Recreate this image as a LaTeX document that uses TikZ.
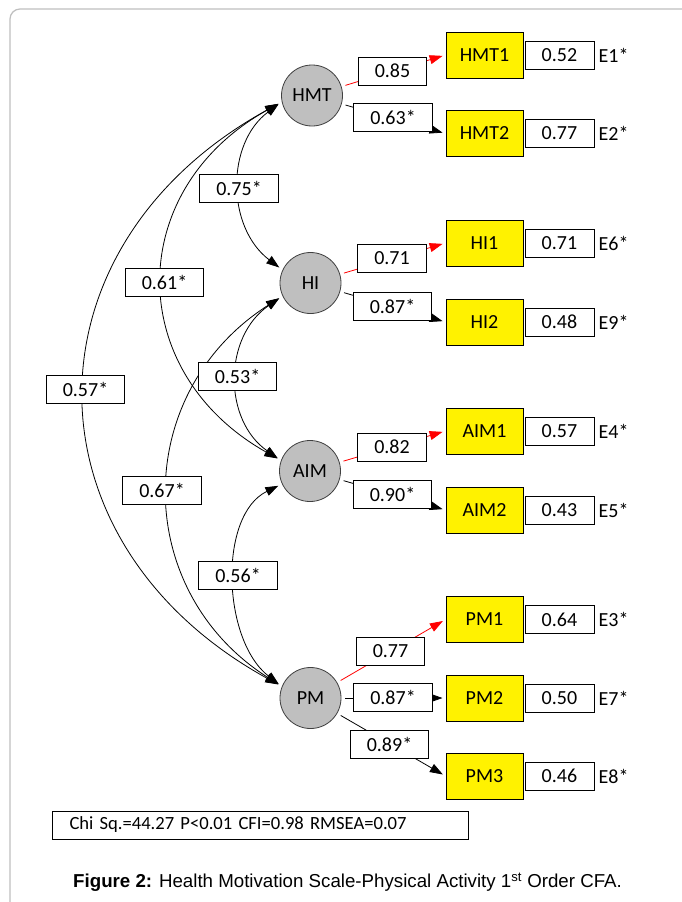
\documentclass[tikz,border=0pt]{standalone}
\usepackage{fontspec}
\setmainfont{Carlito}
\newfontfamily\capfont{Liberation Sans}
\usetikzlibrary{arrows.meta}
\begin{document}
\begin{tikzpicture}[x=1pt,y=-1pt,
  gfont/.style={font=\fontsize{20}{23}\selectfont},
  lat/.style={circle, draw=black!75, fill=black!25, line width=0.8pt, minimum size=61pt, inner sep=0pt, gfont},
  obs/.style={rectangle, draw=black, fill=yellow, line width=1pt, minimum width=77pt, minimum height=46pt, inner sep=0pt, gfont},
  errbox/.style={rectangle, draw=black, fill=white, line width=0.9pt, minimum width=69pt, minimum height=28pt, inner sep=0pt, anchor=west, gfont},
  wlab/.style={rectangle, draw=black, fill=white, line width=0.9pt, minimum height=28pt, inner xsep=16.5pt, inner ysep=0pt, gfont},
  elab/.style={inner sep=0pt, anchor=west, gfont},
  load/.style={line width=0.8pt, -{Triangle[length=13pt,width=9pt]}, shorten <=4pt, shorten >=3pt},
  cov/.style={line width=0.8pt, {Triangle[length=13pt,width=9pt]}-{Triangle[length=13pt,width=9pt]}, shorten <=4pt, shorten >=4pt}
]
\useasboundingbox (0,0) rectangle (681,902);
\fill[white] (0,0) rectangle (681,902);
% frame
\draw[black!25, line width=1.2pt, rounded corners=10pt] (10,910) -- (10,9) -- (700,9);

% latent variables
\node[lat] (hmt) at (312,95.5) {HMT};
\node[lat] (hi)  at (310.5,283) {HI};
\node[lat] (aim) at (310,471) {AIM};
\node[lat] (pm)  at (310.5,698) {PM};

% observed variables
\node[obs] (hmt1) at (484.5,55) {HMT1};
\node[obs] (hmt2) at (484.5,133.5) {HMT2};
\node[obs] (hi1) at (484.5,243) {HI1};
\node[obs] (hi2) at (484.5,322) {HI2};
\node[obs] (aim1) at (484.5,431) {AIM1};
\node[obs] (aim2) at (484.5,510) {AIM2};
\node[obs] (pm1) at (484.5,619.5) {PM1};
\node[obs] (pm2) at (484.5,698) {PM2};
\node[obs] (pm3) at (484.5,776) {PM3};

% error boxes
\foreach \o/\v/\e in {hmt1/0.52/E1*, hmt2/0.77/E2*, hi1/0.71/E6*, hi2/0.48/E9*, aim1/0.57/E4*, aim2/0.43/E5*, pm1/0.64/E3*, pm2/0.50/E7*, pm3/0.46/E8*}{
  \node[errbox] (err-\o) at ([xshift=1pt]\o.east) {\v};
  \node[elab] (lab-\o) at ([xshift=4pt]err-\o.east) {\e};
}

% loadings
\draw[load, red] (hmt) -- (hmt1.west);
\draw[load] (hmt) -- (hmt2.west);
\draw[load, red] (hi) -- (hi1.west);
\draw[load] (hi) -- (hi2.west);
\draw[load, red] (aim) -- (aim1.west);
\draw[load] (aim) -- (aim2.west);
\draw[load, red] (pm) -- (pm1.west);
\draw[load] (pm) -- (pm2.west);
\draw[load] (pm) -- (pm3.west);

% covariances
\draw[cov] (hmt.192) .. controls (226,143) and (226,227) .. (hi.155);
\draw[cov] (hmt.192) .. controls (124,190) and (124,372) .. (aim.160);
\draw[cov] (hmt.192) .. controls (20,246) and (20,542) .. (pm.158);
\draw[cov] (hi.205) .. controls (223,337) and (223,420) .. (aim.160);
\draw[cov] (hi.205) .. controls (131,393) and (131,590) .. (pm.158);
\draw[cov] (aim.205) .. controls (218,515) and (222,640) .. (pm.158);

% loading labels
\node[wlab] (l1) at (392.5,71) {0.85};
\node[wlab] (l2) at (393,117.5) {0.63*};
\node[wlab] (l3) at (392,258.5) {0.71};
\node[wlab] (l4) at (392.5,306) {0.87*};
\node[wlab] (l5) at (392,447) {0.82};
\node[wlab] (l6) at (392.5,494) {0.90*};
\node[wlab] (l7) at (390.5,651.5) {0.77};
\node[wlab] (l8) at (393,697.5) {0.87*};
\node[wlab] (l9) at (389.5,744.5) {0.89*};

% covariance labels
\node[wlab] (c1) at (239,188) {0.75*};
\node[wlab] (c2) at (164.5,282) {0.61*};
\node[wlab] (c3) at (85.5,389) {0.57*};
\node[wlab] (c4) at (237.5,376) {0.53*};
\node[wlab] (c5) at (162,490) {0.67*};
\node[wlab] (c6) at (238,575.5) {0.56*};

% fit statistics
\node[draw=black, line width=0.9pt, minimum height=28pt, text width=381pt, inner xsep=17.5pt, inner ysep=0pt, align=left, font=\fontsize{18.6}{22}\selectfont] (fit) at (260,825) {Chi Sq.=44.27 P<0.01 CFI=0.98 RMSEA=0.07};

% caption
\node[anchor=west, inner sep=0pt, font=\capfont\fontsize{18.7}{22}\selectfont] (cap) at (73,882) {\textbf{Figure 2:} Health Motivation Scale-Physical Activity 1\textsuperscript{st} Order CFA.};
\end{tikzpicture}
\end{document}
